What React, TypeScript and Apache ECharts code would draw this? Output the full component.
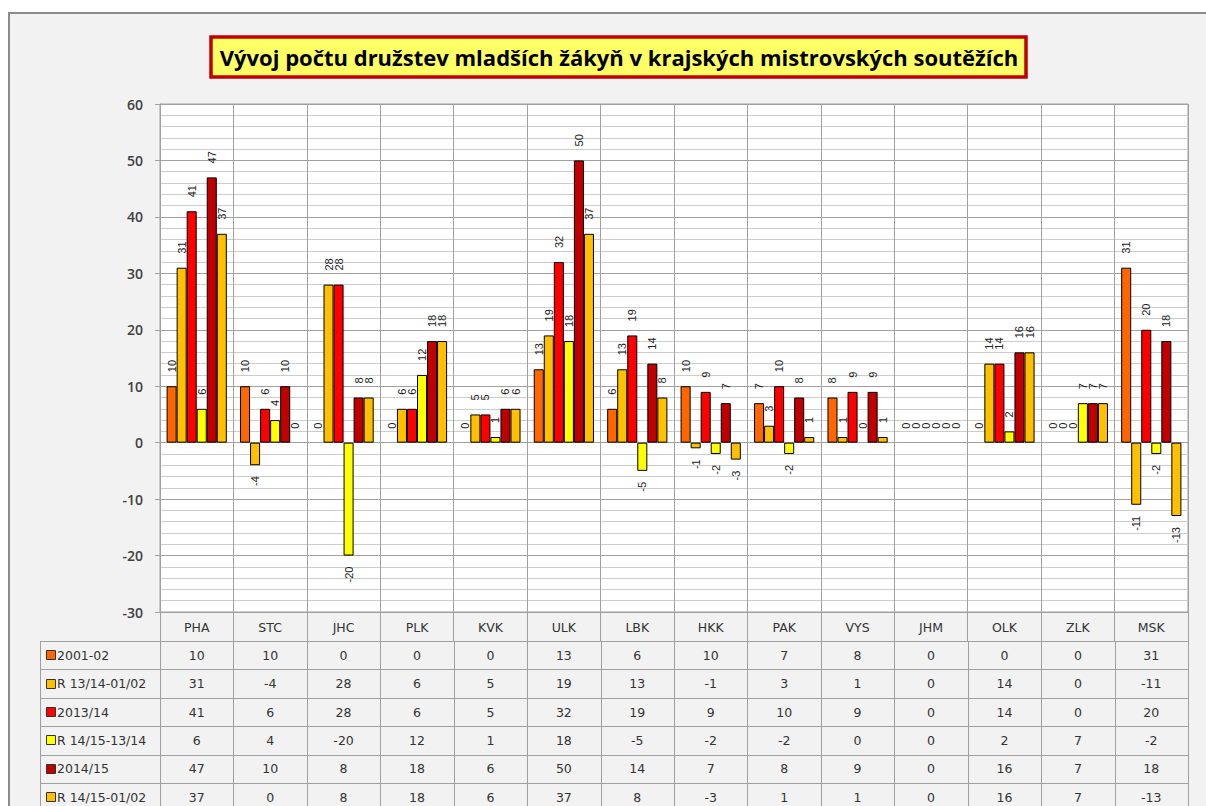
import React, { useEffect, useRef } from "react";
import * as echarts from "echarts";

const categories = ["PHA", "STC", "JHC", "PLK", "KVK", "ULK", "LBK", "HKK", "PAK", "VYS", "JHM", "OLK", "ZLK", "MSK"];
const seriesNames = ["2001-02", "R 13/14-01/02", "2013/14", "R 14/15-13/14", "2014/15", "R 14/15-01/02"];
const s2001 = [10, 10, 0, 0, 0, 13, 6, 10, 7, 8, 0, 0, 0, 31];
const r1314_0102 = [31, -4, 28, 6, 5, 19, 13, -1, 3, 1, 0, 14, 0, -11];
const s1314 = [41, 6, 28, 6, 5, 32, 19, 9, 10, 9, 0, 14, 0, 20];
const r1415_1314 = [6, 4, -20, 12, 1, 18, -5, -2, -2, 0, 0, 2, 7, -2];
const s1415 = [47, 10, 8, 18, 6, 50, 14, 7, 8, 9, 0, 16, 7, 18];
const r1415_0102 = [37, 0, 8, 18, 6, 37, 8, -3, 1, 1, 0, 16, 7, -13];
const seriesValues = [s2001, r1314_0102, s1314, r1415_1314, s1415, r1415_0102];
const seriesColors = ["#FF6600", "#FFC000", "#FF0000", "#FFFF00", "#C00000", "#FFC000"];
const titleText = "Vývoj počtu družstev mladších žákyň v krajských mistrovských soutěžích";

const GRID_LEFT = 160;
const GRID_RIGHT_X = 1188;
const GRID_TOP = 104;
const GRID_BOTTOM_Y = 612;
const TABLE_TOP = 641;
const ROW_H = 28.4;
const TABLE_LEFT = 40;
const GRID_LINE = "#a0a0a0";

export default function App() {
  const ref = useRef<HTMLDivElement>(null);
  useEffect(() => {
    if (!ref.current) return;
    const chart = echarts.init(ref.current, null, { renderer: "svg" });
    const colW = (GRID_RIGHT_X - GRID_LEFT) / categories.length;
    const graphics: any[] = [];
    // title box
    graphics.push({
      type: "rect",
      shape: { x: 211, y: 37, width: 815, height: 40 },
      style: { fill: "#FFFF66", stroke: "#C00000", lineWidth: 3.5 },
      z: 10,
    });
    graphics.push({
      type: "text",
      x: 619,
      y: 57,
      style: {
        text: titleText,
        fontFamily: "Open Sans",
        fontWeight: "bold",
        fontSize: 22,
        fill: "#000",
        align: "center",
        verticalAlign: "middle",
      },
      z: 11,
    });
    // table lines
    const rows = seriesNames.length;
    for (let r = 0; r <= rows; r++) {
      const y = Math.round(TABLE_TOP + r * ROW_H) + 0.5;
      graphics.push({
        type: "line",
        shape: { x1: TABLE_LEFT, y1: y, x2: GRID_RIGHT_X, y2: y },
        style: { stroke: GRID_LINE, lineWidth: 1 },
        z: 5,
      });
    }
    const tableBottom = TABLE_TOP + rows * ROW_H;
    graphics.push({
      type: "line",
      shape: { x1: TABLE_LEFT + 0.5, y1: TABLE_TOP, x2: TABLE_LEFT + 0.5, y2: tableBottom },
      style: { stroke: GRID_LINE, lineWidth: 1 },
      z: 5,
    });
    for (let c = 0; c <= categories.length; c++) {
      const x = Math.round(GRID_LEFT + c * colW) + 0.5;
      graphics.push({
        type: "line",
        shape: { x1: x, y1: TABLE_TOP, x2: x, y2: tableBottom },
        style: { stroke: GRID_LINE, lineWidth: 1 },
        z: 5,
      });
    }
    // table content
    seriesNames.forEach((name, r) => {
      const cy = TABLE_TOP + r * ROW_H + ROW_H / 2;
      graphics.push({
        type: "rect",
        shape: { x: 46.5, y: Math.round(cy - 5) + 0.5, width: 9, height: 9 },
        style: { fill: seriesColors[r], stroke: "#333", lineWidth: 1 },
        z: 6,
      });
      graphics.push({
        type: "text",
        x: 57,
        y: cy,
        style: {
          text: name,
          fontFamily: "DejaVu Sans",
          fontSize: 12.5,
          fill: "#333",
          align: "left",
          verticalAlign: "middle",
        },
        z: 6,
      });
      seriesValues[r].forEach((v, c) => {
        graphics.push({
          type: "text",
          x: GRID_LEFT + c * colW + colW / 2,
          y: cy,
          style: {
            text: String(v),
            fontFamily: "DejaVu Sans",
            fontSize: 12.5,
            fill: "#333",
            align: "center",
            verticalAlign: "middle",
          },
          z: 6,
        });
      });
    });

    const series = seriesNames.map((name, i) => ({
      name,
      type: "bar",
      barGap: "0%",
      barCategoryGap: "18%",
      itemStyle: { color: seriesColors[i], borderColor: "#000", borderWidth: 1 },
      label: {
        show: true,
        rotate: 90,
        verticalAlign: "middle",
        fontFamily: "Liberation Sans",
        fontSize: 11,
        color: "#222",
      },
      data: seriesValues[i].map((v) => ({
        value: v,
        itemStyle: v === 0 ? { borderWidth: 0 } : undefined,
        label:
          v < 0
            ? { position: "bottom", align: "right", distance: 11 }
            : { position: "top", align: "left", distance: 14 },
      })),
    }));

    chart.setOption({
      animation: false,
      backgroundColor: "transparent",
      grid: {
        left: GRID_LEFT,
        top: GRID_TOP,
        width: GRID_RIGHT_X - GRID_LEFT,
        height: GRID_BOTTOM_Y - GRID_TOP,
        show: true,
        backgroundColor: "#ffffff",
        borderColor: GRID_LINE,
        borderWidth: 1,
      },
      xAxis: {
        type: "category",
        data: categories,
        axisLine: { show: true, onZero: false, lineStyle: { color: GRID_LINE } },
        axisTick: { show: true, interval: 0, length: TABLE_TOP - GRID_BOTTOM_Y, lineStyle: { color: GRID_LINE } },
        axisLabel: {
          interval: 0,
          margin: 9,
          fontFamily: "DejaVu Sans",
          fontSize: 12.5,
          color: "#333",
        },
        splitLine: { show: true, interval: 0, lineStyle: { color: GRID_LINE, width: 1 } },
      },
      yAxis: {
        type: "value",
        min: -30,
        max: 60,
        interval: 10,
        axisLine: { show: true, lineStyle: { color: GRID_LINE } },
        axisTick: { show: true, length: 5, lineStyle: { color: GRID_LINE } },
        axisLabel: {
          margin: 17,
          fontFamily: "Open Sans",
          fontSize: 14,
          fontWeight: 600,
          color: "#404040",
        },
        splitLine: { show: true, lineStyle: { color: GRID_LINE, width: 1 } },
        minorTick: { show: false, splitNumber: 5 },
        minorSplitLine: { show: true, lineStyle: { color: "#cccccc", width: 1 } },
      },
      series,
      graphic: graphics,
    });
    return () => chart.dispose();
  }, []);

  return (
    <div style={{ position: "fixed", left: 0, top: 0, width: 1206, height: 806, background: "#ffffff", overflow: "hidden" }}>
      <div
        style={{
          position: "absolute",
          left: 8,
          top: 12,
          width: 1230,
          height: 830,
          background: "#F2F2F2",
          border: "2px solid #8c8c8c",
          boxSizing: "border-box",
        }}
      />
      <div ref={ref} style={{ position: "absolute", left: 0, top: 0, width: 1206, height: 806 }} />
    </div>
  );
}
